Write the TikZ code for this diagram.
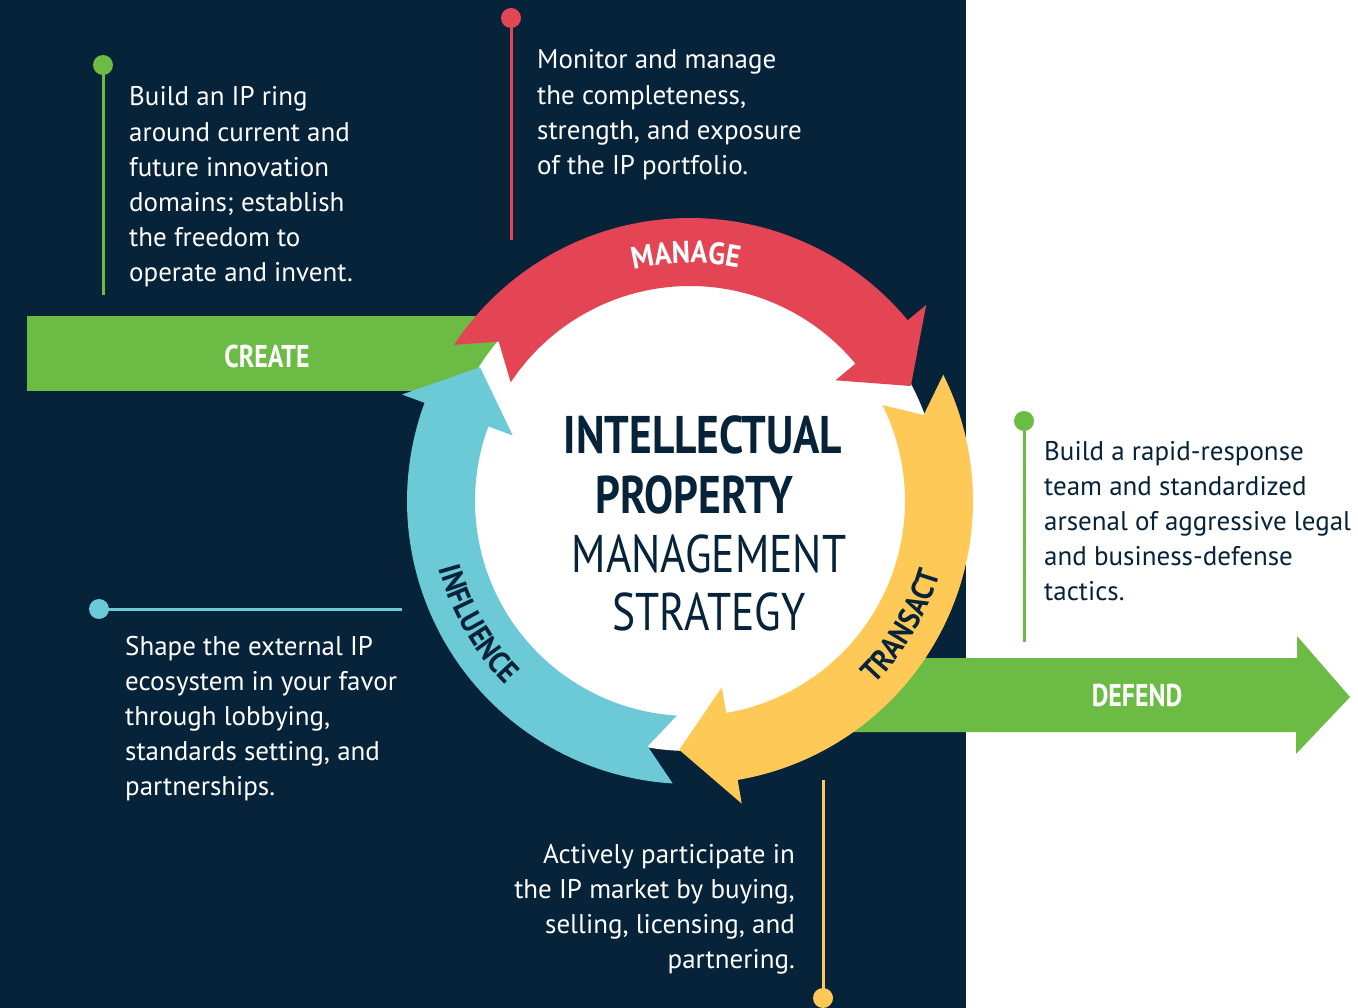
\documentclass[tikz,border=0pt]{standalone}
\usepackage{fontspec}
\setmainfont{PT Sans}
\newfontfamily\condfont[FakeStretch=0.82]{PT Sans}
\newfontfamily\arcfont[FakeStretch=0.9]{PT Sans}
\usetikzlibrary{decorations.text}
\definecolor{navy}{HTML}{06233A}
\definecolor{ipred}{HTML}{E34555}
\definecolor{ipyellow}{HTML}{FEC957}
\definecolor{ipcyan}{HTML}{6BCAD6}
\definecolor{ipgreen}{HTML}{6BBB45}
\newcommand\ringarrow[2]{%
  \pgfmathsetmacro\ta{#2}%
  \pgfmathsetmacro\tp{#2-119}%
  \pgfmathsetmacro\hb{#2-119+12.2}%
  \pgfmathsetmacro\nt{#2-6.3}%
  \fill[#1] (\ta:283) arc[start angle=\ta, end angle=\hb, radius=283] -- (\hb:307) -- (\tp:249) -- (\hb:189) -- (\hb:215) arc[start angle=\hb, end angle=\ta, radius=215] -- (\nt:249) -- cycle;
}
\newcommand\blurb[6]{%
  \foreach \ln [count=\i from 0] in {#6}{%
    \node[bodytext, anchor=#4, text=#5] (#1-\i) at (#2, #3+\i*35.2) {\ln};
  }%
}
\tikzset{
  bodytext/.style={inner sep=0pt, font=\fontsize{27}{27}\selectfont},
  dotnode/.style={circle, inner sep=0pt, minimum size=20pt, fill=#1},
  leader/.style={line width=3pt, draw=#1},
  barlabel/.style={text=white, inner sep=0pt, anchor=base, font=\condfont\bfseries\fontsize{31.5}{31.5}\selectfont},
  titlebold/.style={text=navy, inner sep=0pt, anchor=base, font=\condfont\bfseries\fontsize{53}{53}\selectfont},
  titlereg/.style={text=navy, inner sep=0pt, anchor=base, font=\condfont\fontsize{53}{53}\selectfont},
}
\begin{document}
\begin{tikzpicture}[x=1pt,y=-1pt]
\useasboundingbox (0,0) rectangle (1358,1008);
\fill[white] (0,0) rectangle (1358,1008);
\fill[navy] (0,0) rectangle (966,1008);
% green bars
\fill[ipgreen] (27,316) rectangle (560,391);
\fill[ipgreen] (800,658) -- (1297,658) -- (1297,636) -- (1350,697) -- (1296,754) -- (1296,732) -- (800,732) -- cycle;
\node[barlabel] (create) at (267,367) {CREATE};
\node[barlabel] (defend) at (1137,706) {DEFEND};
% ring
\begin{scope}[shift={(690,501)}, y=1pt]
  \fill[white] (0,0) circle[radius=250];
  \ringarrow{ipred}{146.5}
  \ringarrow{ipyellow}{26.5}
  \ringarrow{ipcyan}{-93.5}
  \path[decorate, decoration={text along path, text color=white,
      text={|\arcfont\bfseries\fontsize{31}{31}\selectfont|MANAGE}, text align=center}]
      (111:238) arc[start angle=111, end angle=71, radius=238];
  \path[decorate, decoration={text along path, text color=navy,
      text={|\arcfont\bfseries\fontsize{31}{31}\selectfont|TRANSACT}, text align=center}]
      (-55.5:260) arc[start angle=-55.5, end angle=-5.5, radius=260];
  \path[decorate, decoration={text along path, text color=navy,
      text={|\arcfont\bfseries\fontsize{31}{31}\selectfont|INFLUENCE}, text align=center}]
      (185:260) arc[start angle=185, end angle=235, radius=260];
\end{scope}
% title
\node[titlebold] (t1) at (703,453) {INTELLECTUAL};
\node[titlebold] (t2) at (694,513) {PROPERTY};
\node[titlereg] (t3) at (709,572) {MANAGEMENT};
\node[titlereg] (t4) at (709,630) {STRATEGY};
% leaders
\node[dotnode=ipgreen] (d1) at (103,65) {};
\coordinate (e1) at (103,295);
\draw[leader=ipgreen] (d1.center) -- (e1);
\node[dotnode=ipred] (d2) at (511,18) {};
\coordinate (e2) at (511,240);
\draw[leader=ipred] (d2.center) -- (e2);
\node[dotnode=ipgreen] (d3) at (1024,421) {};
\coordinate (e3) at (1024,642);
\draw[leader=ipgreen] (d3.center) -- (e3);
\node[dotnode=ipcyan] (d4) at (99,609) {};
\coordinate (e4) at (402,609);
\draw[leader=ipcyan] (d4.center) -- (e4);
\node[dotnode=ipyellow] (d5) at (823,998) {};
\coordinate (e5) at (823,780);
\draw[leader=ipyellow] (d5.center) -- (e5);
% texts
\blurb{tl}{129}{106}{base west}{white}{{Build an IP ring},{around current and},{future innovation},{domains; establish},{the freedom to},{operate and invent.}}
\blurb{tm}{537}{69}{base west}{white}{{Monitor and manage},{the completeness,},{strength, and exposure},{of the IP portfolio.}}
\blurb{rt}{1044}{460}{base west}{navy}{{Build a rapid-response},{team and standardized},{arsenal of aggressive legal},{and business-defense},{tactics.}}
\blurb{lm}{125}{655}{base west}{white}{{Shape the external IP},{ecosystem in your favor},{through lobbying,},{standards setting, and},{partnerships.}}
\blurb{bt}{795}{863}{base east}{white}{{Actively participate in},{the IP market by buying,},{selling, licensing, and},{partnering.}}
\end{tikzpicture}
\end{document}
